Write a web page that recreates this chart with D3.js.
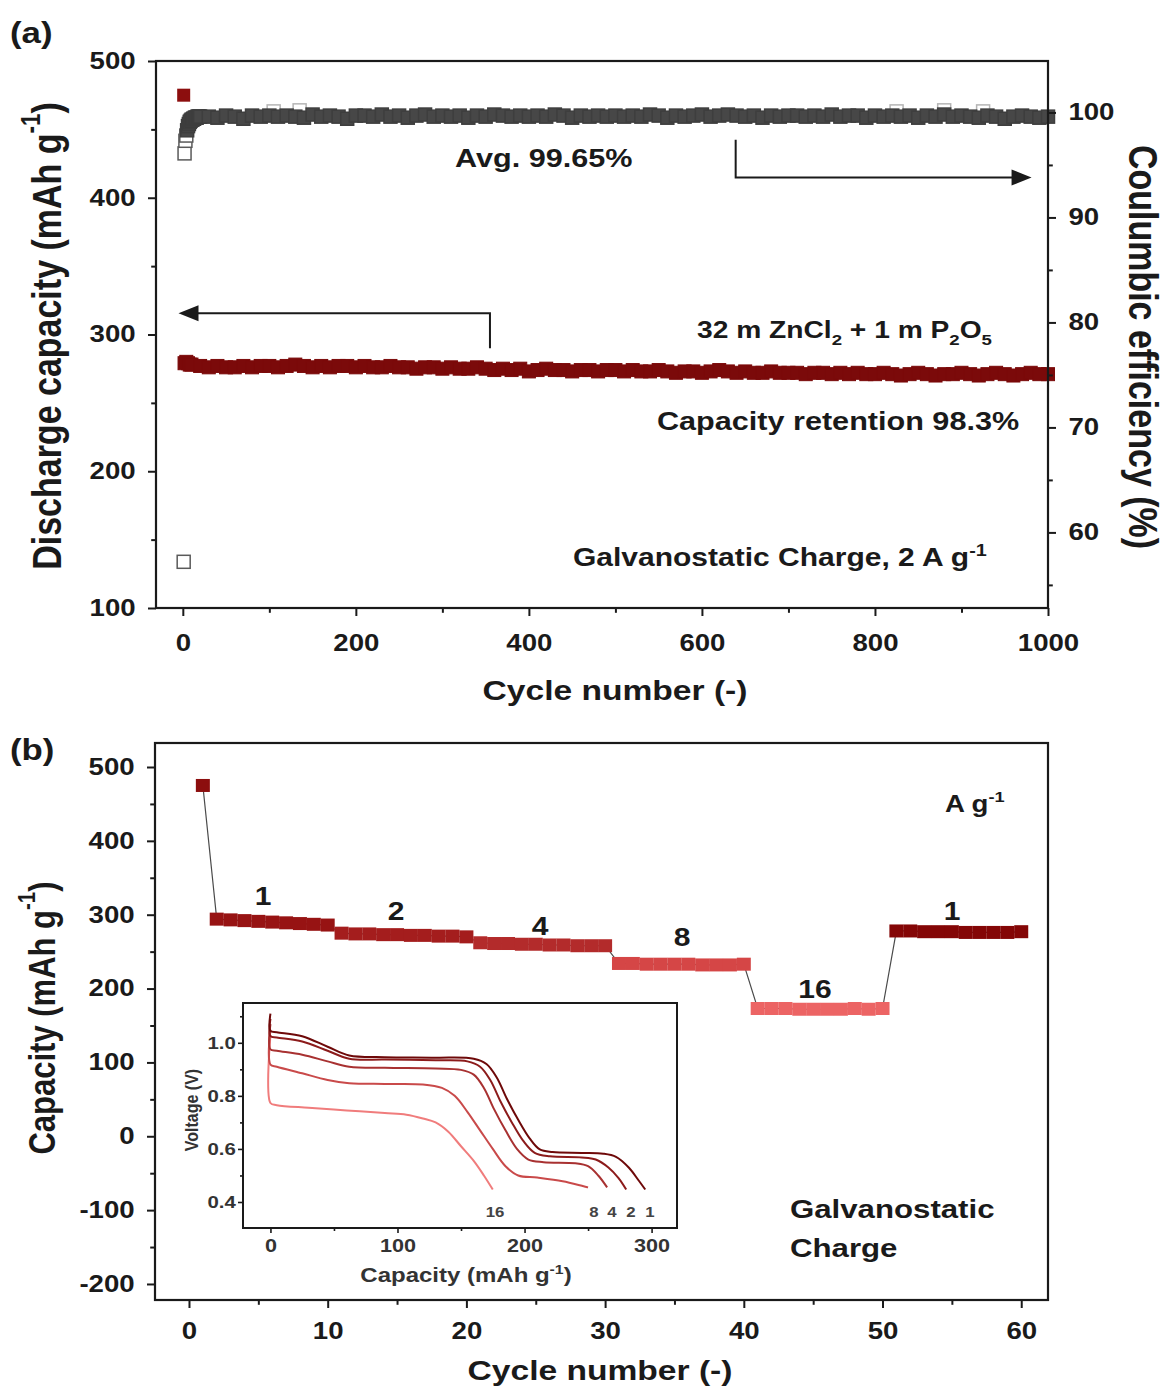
<!DOCTYPE html>
<html><head><meta charset="utf-8">
<script src="https://cdn.jsdelivr.net/npm/d3@7"></script>
<style>
body{margin:0;background:#fff}
svg{display:block}
text{font-family:"Liberation Sans",Arial,sans-serif;font-weight:bold}
</style></head>
<body><svg id="c" width="1165" height="1391"></svg>
<script>
// ---------------- DATA ----------------
// Panel (a): discharge capacity vs cycle (left axis)
const aFirstCycle = 1, aFirstCapacity = 475;
const aCapCycles = [2,4,6,8].concat(d3.range(10, 1001, 10));
const aCapValues = [
  279,280,279,278,
  278,277,276,277,276,276,277,276,277,277,
  276,277,278,277,276,277,276,277,277,276,
  277,276,276,277,276,276,275,276,276,275,
  276,275,275,276,275,274,275,274,275,273,
  274,275,274,274,273,274,274,273,274,274,
  273,274,273,273,274,273,272,273,273,272,
  273,274,273,272,273,272,272,273,272,272,
  272,271,272,272,271,272,271,272,271,271,
  272,271,270,271,272,271,270,271,271,272,
  271,270,271,272,271,270,271,272,271,271
];
// Panel (a): coulombic efficiency (right axis)
const aCeCycles = d3.range(1, 21).concat(d3.range(30, 1001, 10));
const aCeValues = [
  57.2,96.1,97.3,97.8,98.3,98.7,98.9,99.1,99.2,99.3,
  99.3,99.4,99.4,99.5,99.5,99.5,99.6,99.6,99.6,99.6,
  99.6,99.5,99.7,99.6,99.4,99.7,99.6,99.7,
  99.6,99.7,99.6,99.5,99.8,99.6,99.7,99.6,99.4,99.7,
  99.7,99.6,99.8,99.6,99.7,99.5,99.7,99.8,99.6,99.7,
  99.6,99.7,99.5,99.7,99.6,99.8,99.7,99.6,99.7,99.6,
  99.7,99.6,99.8,99.7,99.5,99.7,99.6,99.7,99.6,99.7,
  99.6,99.7,99.6,99.8,99.7,99.5,99.7,99.6,99.7,99.8,
  99.6,99.7,99.8,99.7,99.6,99.7,99.5,99.7,99.6,99.7,
  99.7,99.6,99.7,99.6,99.8,99.6,99.7,99.7,99.5,99.7,
  99.6,99.7,99.6,99.7,99.5,99.7,99.6,99.8,99.6,99.7,
  99.6,99.5,99.7,99.6,99.4,99.6,99.7,99.6,99.5,99.6
];
const aCeOutlierCycles = [105, 135, 825, 880, 925];
const aCeOutlierValues = [100.1, 100.2, 100.1, 100.2, 100.1];

// Panel (b): rate capability
const bCycles = d3.range(1, 61);
const bValues = [
  475,
  294,293,292,291,290,289,288,287,286,
  275,274,274,273,273,272,272,271,271,270,
  262,261,261,260,260,259,259,258,258,258,
  234,234,233,233,233,233,232,232,232,233,
  173,173,173,172,172,172,172,173,172,173,
  278,278,277,277,277,276,276,276,276,277
];
const bRateLabels = ["1","2","4","8","16","1"];
const bRateFirstCycle = [1, 11, 21, 31, 41, 51];
const bRateColors = ["#971313","#a41d1d","#b32b2b","#d54646","#ec6464","#840606"];

// Inset: voltage profiles (capacity mAh/g, voltage V)
const insetLabels = ["1","2","4","8","16"];
const insetColors = ["#6e0909","#8c1b1b","#a83131","#c94a4a","#f07c7c"];
const insetCurve1 = [[0,1.11],[0,1.045],[5,1.04],[25,1.025],[45,0.985],[62,0.952],[90,0.946],[130,0.944],[160,0.94],[170,0.92],[178,0.87],[186,0.79],[195,0.71],[204,0.64],[212,0.598],[222,0.588],[245,0.585],[262,0.582],[272,0.57],[282,0.53],[290,0.48],[295,0.447]];
const insetCurve2 = [[0,1.09],[0,1.025],[5,1.02],[25,1.005],[45,0.97],[62,0.94],[90,0.937],[130,0.934],[155,0.93],[165,0.91],[173,0.86],[181,0.78],[190,0.70],[199,0.63],[208,0.585],[220,0.572],[245,0.568],[256,0.56],[266,0.53],[274,0.49],[280,0.447]];
const insetCurve4 = [[0,1.07],[0,0.975],[5,0.97],[25,0.955],[45,0.93],[62,0.91],[90,0.906],[130,0.903],[150,0.898],[160,0.88],[168,0.83],[176,0.75],[185,0.67],[194,0.60],[203,0.56],[215,0.55],[240,0.546],[250,0.535],[258,0.50],[265,0.455]];
const insetCurve8 = [[0,1.05],[0,0.918],[5,0.91],[25,0.885],[45,0.86],[62,0.848],[90,0.845],[120,0.843],[135,0.83],[145,0.80],[155,0.74],[165,0.67],[175,0.60],[185,0.535],[195,0.50],[210,0.492],[230,0.478],[250,0.455]];
const insetCurve16 = [[0,1.03],[0,0.773],[5,0.765],[30,0.755],[60,0.745],[90,0.735],[107,0.729],[120,0.715],[130,0.70],[140,0.665],[150,0.61],[160,0.555],[168,0.50],[175,0.447]];

// Tick values
const aXTicks = [0,200,400,600,800,1000], aXMinor = [100,300,500,700,900];
const aYTicks = [100,200,300,400,500], aYMinor = [150,250,350,450];
const aRTicks = [60,70,80,90,100], aRMinor = [55,65,75,85,95];
const bXTicks = [0,10,20,30,40,50,60], bXMinor = [5,15,25,35,45,55];
const bYTicks = [-200,-100,0,100,200,300,400,500], bYMinor = [-150,-50,50,150,250,350,450];
const iXTicks = [0,100,200,300], iXMinor = [50,150,250];
const iYTicks = [0.4,0.6,0.8,1.0], iYMinor = [0.5,0.7,0.9,1.1];

// ---------------- DRAWING ----------------
const SX = 1.2;
const INK = "#1a1a1a";
const svg = d3.select("#c");

function addText(parent, x, y, parts, opt = {}) {
  const size = opt.size || 24;
  const t = parent.append("text")
    .attr("transform", `translate(${x},${y}) scale(${SX},1)` + (opt.rotate ? ` rotate(${opt.rotate})` : ""))
    .attr("text-anchor", opt.anchor || "start")
    .attr("font-size", size)
    .attr("dominant-baseline", opt.baseline || "auto")
    .style("fill", opt.fill || INK);
  let pending = 0;
  parts.forEach(p => {
    if (typeof p === "string") {
      const s = t.append("tspan").text(p);
      if (pending) { s.attr("dy", pending); pending = 0; }
      return;
    }
    const shift = p.sup !== undefined ? -0.42 * size : 0.28 * size;
    t.append("tspan").attr("font-size", size * 0.66).attr("dy", shift + pending).text(p.sup !== undefined ? p.sup : p.sub);
    pending = -shift;
  });
  return t;
}

function drawAxis(parent, gen, major, minor, o) {
  const g = parent.append("g").attr("transform", o.tr);
  g.call(gen.tickValues(major).tickSize(o.len).tickPadding(o.pad).tickFormat(o.fmt || ((d) => String(d))));
  g.select(".domain").remove();
  g.selectAll("line").attr("stroke", INK).attr("stroke-width", o.sw || 2);
  g.selectAll("text").attr("font-size", o.fs).attr("font-family", '"Liberation Sans",Arial,sans-serif')
    .attr("font-weight", "bold").attr("fill", o.fill || INK).attr("transform", `scale(${SX},1)`);
  const m = parent.append("g").attr("transform", o.tr);
  m.call(gen.tickValues(minor).tickSize(o.len * 0.6).tickFormat(""));
  m.select(".domain").remove();
  m.selectAll("line").attr("stroke", INK).attr("stroke-width", o.sw || 2);
  return g;
}

function arrowHead(parent, tipX, tipY, dir, L, H) {
  parent.append("path")
    .attr("d", `M${tipX},${tipY} L${tipX - dir * L},${tipY - H / 2} L${tipX - dir * L},${tipY + H / 2} Z`)
    .attr("fill", INK);
}

// ===== Panel (a) =====
const A = {l: 156, r: 1048, t: 61, b: 608};
const xA = d3.scaleLinear([-31, 1000], [A.l, A.r]);
const yA = d3.scaleLinear([100, 500], [A.b, A.t]);
const yAR = d3.scaleLinear([52.8, 104.9], [A.b, A.t]);
const gA = svg.append("g");

const ms = 13;
gA.selectAll("rect.ceo").data(aCeOutlierCycles).join("rect")
  .attr("x", (d) => xA(d) - ms / 2).attr("y", (d, i) => yAR(aCeOutlierValues[i]) - ms / 2)
  .attr("width", ms).attr("height", ms).attr("fill", "#fff").attr("stroke", "#b5b5b5").attr("stroke-width", 1.5);
gA.selectAll("rect.ce").data(aCeCycles).join("rect")
  .attr("x", (d) => xA(d) - ms / 2).attr("y", (d, i) => yAR(aCeValues[i]) - ms / 2)
  .attr("width", ms).attr("height", ms)
  .attr("fill", (d) => d <= 4 ? "#fff" : "#474747")
  .attr("stroke", (d) => d <= 4 ? "#5a5a5a" : "#3e3e3e").attr("stroke-width", 1.5);
gA.selectAll("rect.cap").data(aCapCycles).join("rect")
  .attr("x", (d) => xA(d) - ms / 2).attr("y", (d, i) => yA(aCapValues[i]) - ms / 2)
  .attr("width", ms).attr("height", ms).attr("fill", "#7b0a0a").attr("stroke", "#7b0a0a").attr("stroke-width", 1);
gA.append("rect").attr("x", xA(aFirstCycle) - ms / 2).attr("y", yA(aFirstCapacity) - ms / 2)
  .attr("width", ms).attr("height", ms).attr("fill", "#8c0e0e");

gA.append("rect").attr("x", A.l).attr("y", A.t).attr("width", A.r - A.l).attr("height", A.b - A.t)
  .attr("fill", "none").attr("stroke", INK).attr("stroke-width", 2.2);
drawAxis(gA, d3.axisBottom(xA), aXTicks, aXMinor, {tr: `translate(0,${A.b})`, len: 8, pad: 19, fs: 23});
drawAxis(gA, d3.axisLeft(yA), aYTicks, aYMinor, {tr: `translate(${A.l},0)`, len: 8, pad: 9, fs: 23});
drawAxis(gA, d3.axisRight(yAR), aRTicks, aRMinor, {tr: `translate(${A.r},0)`, len: 8, pad: 9, fs: 23});

const arrR = {cycle: 639, from: 97.4, to: 93.8, tip: 981};
gA.append("path").attr("d", `M${xA(arrR.cycle)},${yAR(arrR.from)} V${yAR(arrR.to)} H${xA(arrR.tip) - 18}`)
  .attr("fill", "none").attr("stroke", INK).attr("stroke-width", 2);
arrowHead(gA, xA(arrR.tip), yAR(arrR.to), 1, 20, 16);
const arrL = {cycle: 355, from: 290, to: 315.5, tip: -5};
gA.append("path").attr("d", `M${xA(arrL.cycle)},${yA(arrL.from)} V${yA(arrL.to)} H${xA(arrL.tip) + 18}`)
  .attr("fill", "none").attr("stroke", INK).attr("stroke-width", 2);
arrowHead(gA, xA(arrL.tip), yA(arrL.to), -1, 20, 16);

addText(svg, 10, 43, ["(a)"], {size: 29});
addText(gA, 455, 167, ["Avg. 99.65%"], {size: 25.5});
addText(gA, 697, 338, ["32 m ZnCl", {sub: "2"}, " + 1 m P", {sub: "2"}, "O", {sub: "5"}], {size: 23.5});
addText(gA, 657, 430, ["Capacity retention 98.3%"], {size: 25.5});
addText(gA, 573, 566, ["Galvanostatic Charge, 2 A g", {sup: "-1"}], {size: 25});
addText(gA, 47, 336, ["Discharge capacity (mAh g", {sup: "-1"}, ")"], {size: 34, rotate: -90, anchor: "middle", baseline: "central"});
addText(gA, 1143, 347, ["Coulumbic efficiency (%)"], {size: 34, rotate: 90, anchor: "middle", baseline: "central"});
addText(gA, 615, 690, ["Cycle number (-)"], {size: 28, anchor: "middle", baseline: "central"});

// ===== Panel (b) =====
const B = {l: 155, r: 1048, t: 743, b: 1300};
const xB = d3.scaleLinear([-2.45, 61.93], [B.l, B.r]);
const yB = d3.scaleLinear([-221.7, 532.5], [B.b, B.t]);
const gB = svg.append("g");

gB.append("path").datum(bCycles)
  .attr("d", d3.line().x((d) => xB(d)).y((d, i) => yB(bValues[i])))
  .attr("fill", "none").attr("stroke", "#4a4a4a").attr("stroke-width", 1.2);
const segIndex = (c) => { let k = 0; bRateFirstCycle.forEach((f, j) => { if (c >= f) k = j; }); return k; };
const bs = 14;
gB.selectAll("rect.b").data(bCycles).join("rect")
  .attr("x", (d) => xB(d) - bs / 2).attr("y", (d, i) => yB(bValues[i]) - bs / 2 + 0.5)
  .attr("width", bs).attr("height", bs - 1)
  .attr("fill", (d) => d === 1 ? "#8c0e0e" : bRateColors[segIndex(d)]);

gB.append("rect").attr("x", B.l).attr("y", B.t).attr("width", B.r - B.l).attr("height", B.b - B.t)
  .attr("fill", "none").attr("stroke", INK).attr("stroke-width", 2.2);
drawAxis(gB, d3.axisBottom(xB), bXTicks, bXMinor, {tr: `translate(0,${B.b})`, len: 8, pad: 15, fs: 23});
drawAxis(gB, d3.axisLeft(yB), bYTicks, bYMinor, {tr: `translate(${B.l},0)`, len: 8, pad: 9, fs: 23});

const stepLabelPos = [[263, 905], [396, 920], [540, 935], [682, 946], [815, 998], [952, 920]];
bRateLabels.forEach((t, i) => addText(gB, stepLabelPos[i][0], stepLabelPos[i][1], [t], {size: 25, anchor: "middle"}));
addText(gB, 945, 812, ["A g", {sup: "-1"}], {size: 23});
addText(gB, 790, 1218, ["Galvanostatic"], {size: 26});
addText(gB, 790, 1257, ["Charge"], {size: 26});
addText(svg, 10, 760, ["(b)"], {size: 29});
addText(gB, 42, 1018, ["Capacity (mAh g", {sup: "-1"}, ")"], {size: 31, rotate: -90, anchor: "middle", baseline: "central"});
addText(gB, 600, 1370, ["Cycle number (-)"], {size: 28, anchor: "middle", baseline: "central"});

// ===== Inset =====
const I = {l: 243, r: 677, t: 1003, b: 1228};
const xI = d3.scaleLinear([-21.6, 320], [I.l, I.r]);
const yI = d3.scaleLinear([0.302, 1.15], [I.b, I.t]);
const gI = svg.append("g");
gI.append("rect").attr("x", I.l).attr("y", I.t).attr("width", I.r - I.l).attr("height", I.b - I.t)
  .attr("fill", "#fff").attr("stroke", INK).attr("stroke-width", 2);
const insetCurves = [insetCurve1, insetCurve2, insetCurve4, insetCurve8, insetCurve16];
const lineI = d3.line().x((d) => xI(d[0])).y((d) => yI(d[1])).curve(d3.curveCatmullRom.alpha(0.5));
insetCurves.slice().reverse().forEach((c, j) => {
  const i = insetCurves.length - 1 - j;
  gI.append("path").datum(c).attr("d", lineI).attr("fill", "none")
    .attr("stroke", insetColors[i]).attr("stroke-width", 2);
});
drawAxis(gI, d3.axisBottom(xI), iXTicks, iXMinor, {tr: `translate(0,${I.b})`, len: 5, pad: 6, fs: 18, sw: 1.6, fill: "#333"});
drawAxis(gI, d3.axisLeft(yI), iYTicks, iYMinor, {tr: `translate(${I.l},0)`, len: 5, pad: 1, fs: 17, sw: 1.6, fmt: d3.format(".1f"), fill: "#333"});
const insetLabelX = [650, 631, 612, 594, 495];
insetLabels.forEach((t, i) => addText(gI, insetLabelX[i], 1217, [t], {size: 14, anchor: "middle", fill: "#444"}));
addText(gI, 466, 1282, ["Capacity  (mAh g", {sup: "-1"}, ")"], {size: 20, anchor: "middle", fill: "#333"});
addText(gI, 191, 1110, ["Voltage (V)"], {size: 16, rotate: -90, anchor: "middle", baseline: "central", fill: "#333"});
</script></body></html>
